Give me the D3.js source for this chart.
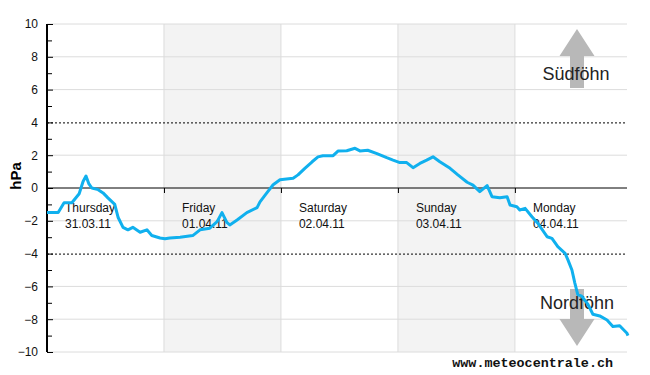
<!DOCTYPE html>
<html>
<head>
<meta charset="utf-8">
<script src="https://cdn.jsdelivr.net/npm/d3@7"></script>
<style>
	body { margin: 0; background: #fff; }
</style>
</head>
<body>
<svg id="chart"></svg>
<script>
var width = 650,
	height = 375;

// hours since Thursday 31.03.11 00:00
var hours = [0, 2.3, 3.5, 5.1, 6.6, 7.4, 8.0, 8.6, 9.2, 10.5, 11.5, 12.5, 13.9, 14.6, 15.6, 16.6, 17.6, 19.1, 20.5, 21.5, 23.2,
	24.2, 25.2, 27.3, 29.9, 31.4, 33.4, 34.9, 35.9, 36.9, 37.5, 39.0, 41.0, 43.1, 43.7, 45.1, 46.4, 47.8,
	50.5, 51.5, 52.9, 54.4, 55.6, 56.6, 58.7, 59.7, 61.5, 63.2, 64.2, 65.8, 67.7, 69.7, 71.0,
	72.4, 73.8, 75.1, 76.5, 77.9, 79.2, 80.6, 82.7, 84.3, 86.2, 87.4, 88.8, 90.3, 91.3, 92.9, 94.4, 95.0,
	96.4, 97.0, 98.1, 99.5, 100.7, 102.6, 103.6, 104.8, 106.3, 106.9, 107.7, 108.3, 108.9, 109.7, 111.0, 112.0, 113.4, 114.9, 116.1, 117.5, 119.0, 119.2];
var hpa = [-1.5, -1.5, -0.9, -0.9, -0.35, 0.4, 0.73, 0.25, 0.0, -0.1, -0.3, -0.6, -1.0, -1.8, -2.4, -2.55, -2.4, -2.7, -2.55, -2.9, -3.05,
	-3.1, -3.05, -3.0, -2.9, -2.55, -2.45, -2.05, -1.5, -2.1, -2.25, -1.95, -1.5, -1.2, -0.85, -0.3, 0.2, 0.5,
	0.6, 0.8, 1.2, 1.6, 1.9, 1.97, 1.97, 2.25, 2.27, 2.42, 2.26, 2.3, 2.1, 1.85, 1.7,
	1.55, 1.55, 1.24, 1.5, 1.7, 1.9, 1.6, 1.2, 0.8, 0.35, 0.18, -0.22, 0.15, -0.53, -0.6, -0.53, -1.04,
	-1.14, -1.34, -1.24, -1.75, -2.15, -2.97, -3.07, -3.58, -3.98, -4.4, -5.0, -5.8, -6.5, -6.6, -7.1, -7.7, -7.8, -8.05, -8.45, -8.4, -8.86, -9.0];

var dayNames = ["Thursday", "Friday", "Saturday", "Sunday", "Monday"];
var dayDates = ["31.03.11", "01.04.11", "02.04.11", "03.04.11", "04.04.11"];
var dayStarts = [0, 24, 48, 72, 96];
var shadedDays = [1, 3];

var majorTicks = [-10, -8, -6, -4, -2, 0, 2, 4, 6, 8, 10];
var minorTicks = [-9, -7, -5, -3, -1, 1, 3, 5, 7, 9];
var dottedLevels = [-4, 4];

var sans = "Liberation Sans, Arial, sans-serif";

var svg = d3
	.select("#chart")
	.attr("width", width)
	.attr("height", height)
	.style("font-family", sans);

var x = d3.scaleLinear()
	.domain([0, 119])
	.range([47, 627]),

	y = d3.scaleLinear()
		.domain([-10, 10])
		.range([352, 24]);

// day bands
svg.append("g")
	.selectAll("rect")
	.data(shadedDays)
	.enter()
	.append("rect")
	.attr("x", function (d) { return x(dayStarts[d]); })
	.attr("y", y(10))
	.attr("width", function (d) { return x(dayStarts[d] + 24) - x(dayStarts[d]); })
	.attr("height", y(-10) - y(10))
	.attr("fill", "#f3f3f3");

// grid
svg.append("g")
	.selectAll("line")
	.data(majorTicks.filter(function (d) { return d !== 0 && Math.abs(d) !== 4; }))
	.enter()
	.append("line")
	.attr("x1", x(0)).attr("x2", x(119))
	.attr("y1", function (d) { return y(d); })
	.attr("y2", function (d) { return y(d); })
	.attr("stroke", "#dcdcdc");

svg.append("g")
	.selectAll("line")
	.data(dayStarts.slice(1))
	.enter()
	.append("line")
	.attr("x1", function (d) { return x(d); })
	.attr("x2", function (d) { return x(d); })
	.attr("y1", y(10)).attr("y2", y(-10))
	.attr("stroke", "#dcdcdc");

svg.append("g")
	.selectAll("line")
	.data(dottedLevels)
	.enter()
	.append("line")
	.attr("x1", x(0)).attr("x2", x(119))
	.attr("y1", function (d) { return y(d) + 0.5; })
	.attr("y2", function (d) { return y(d) + 0.5; })
	.attr("stroke", "#000")
	.attr("stroke-dasharray", "2,2");

// föhn arrows
var arrowX = 577;
var arrows = svg.append("g").attr("fill", "#b8b8b8");
arrows.append("path")
	.attr("d", "M" + arrowX + ",29L" + (arrowX + 17.5) + ",56L" + (arrowX + 7) + ",56L" + (arrowX + 7) + ",88L" +
		(arrowX - 7) + ",88L" + (arrowX - 7) + ",56L" + (arrowX - 17.5) + ",56Z");
arrows.append("path")
	.attr("d", "M" + arrowX + ",346L" + (arrowX + 17.5) + ",319L" + (arrowX + 7) + ",319L" + (arrowX + 7) + ",289L" +
		(arrowX - 7) + ",289L" + (arrowX - 7) + ",319L" + (arrowX - 17.5) + ",319Z");

svg.append("text")
	.attr("x", 576).attr("y", 80)
	.attr("text-anchor", "middle")
	.attr("font-size", 18)
	.attr("fill", "#222")
	.text("Südföhn");
svg.append("text")
	.attr("x", 577).attr("y", 309)
	.attr("text-anchor", "middle")
	.attr("font-size", 18)
	.attr("fill", "#222")
	.text("Nordföhn");

// zero line and day ticks
svg.append("line")
	.attr("x1", x(0)).attr("x2", x(119))
	.attr("y1", y(0)).attr("y2", y(0))
	.attr("stroke", "#000");

var gX = svg.append("g")
	.attr("transform", "translate(0," + y(0) + ")")
	.call(d3.axisBottom(x).tickValues(dayStarts.slice(1)).tickSize(5).tickFormat(""));
gX.select(".domain").remove();

// day labels
var dayLabels = svg.append("g")
	.selectAll("text")
	.data(dayNames)
	.enter()
	.append("text")
	.attr("font-size", 12)
	.attr("fill", "#111")
	.attr("transform", function (d, i) { return "translate(" + (x(dayStarts[i]) + 18) + ",0)"; });
dayLabels.append("tspan").attr("x", 0).attr("y", 212).text(function (d) { return d; });
dayLabels.append("tspan").attr("x", 0).attr("y", 228).text(function (d, i) { return dayDates[i]; });

// y axis
var gY = svg.append("g")
	.attr("transform", "translate(" + x(0) + ",0)")
	.call(d3.axisLeft(y).tickValues(majorTicks).tickSize(-6).tickPadding(9).tickFormat(d3.format("d")));
gY.select(".domain").remove();
gY.attr("font-size", 12).attr("font-family", sans);
gY.selectAll(".tick text").attr("fill", "#111");

var gYm = svg.append("g")
	.attr("transform", "translate(" + x(0) + ",0)")
	.call(d3.axisLeft(y).tickValues(minorTicks).tickSize(-5).tickFormat(""));
gYm.select(".domain").remove();

svg.append("line")
	.attr("x1", x(0)).attr("x2", x(0))
	.attr("y1", y(10)).attr("y2", y(-10))
	.attr("stroke", "#000")
	.attr("stroke-width", 2);

svg.append("text")
	.attr("transform", "translate(21,176) rotate(-90)")
	.attr("text-anchor", "middle")
	.attr("font-size", 15)
	.attr("font-weight", "bold")
	.text("hPa");

// pressure difference line
var line = d3.line()
	.x(function (d, i) { return x(hours[i]); })
	.y(function (d) { return y(d); });

svg.append("path")
	.datum(hpa)
	.attr("d", line)
	.attr("fill", "none")
	.attr("stroke", "#10b0ee")
	.attr("stroke-width", 3)
	.attr("stroke-linejoin", "round");

svg.append("text")
	.attr("x", 613).attr("y", 367)
	.attr("text-anchor", "end")
	.attr("font-size", 13.4)
	.attr("font-weight", "bold")
	.style("font-family", "Liberation Mono, DejaVu Sans Mono, monospace")
	.attr("fill", "#111")
	.text("www.meteocentrale.ch");
</script>
</body>
</html>
